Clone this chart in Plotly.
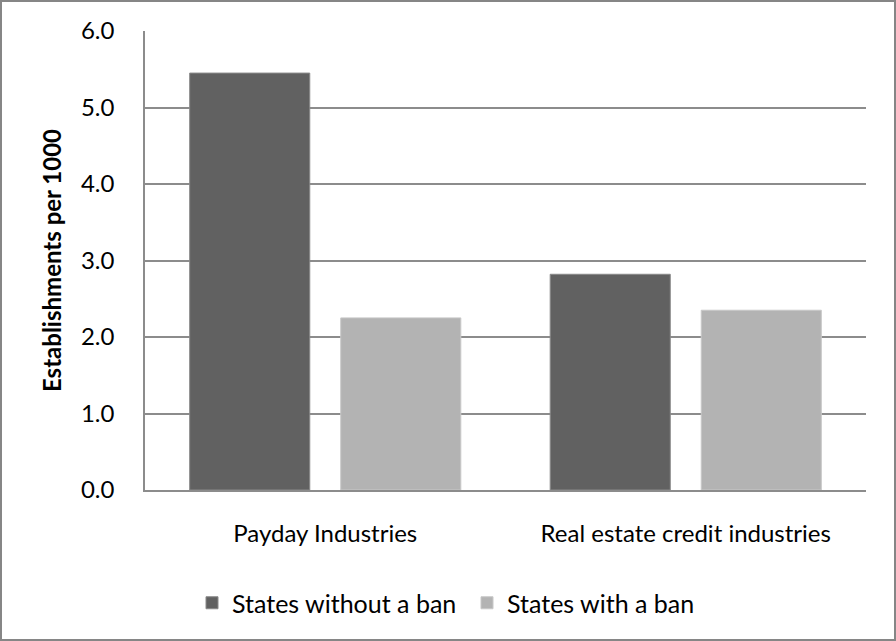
import plotly.graph_objects as go

categories = ["Payday Industries", "Real estate credit industries"]
series_names = ["States without a ban", "States with a ban"]
without_ban = [5.45, 2.82]
with_ban = [2.25, 2.35]
y_ticks = [0, 1, 2, 3, 4, 5, 6]
y_tick_labels = ["0.0", "1.0", "2.0", "3.0", "4.0", "5.0", "6.0"]

FONT = "Lato"
L, R, T, B = 145, 30, 31, 151
W, H = 896, 641
pw, ph = W - L - R, H - T - B

fig = go.Figure()
fig.add_bar(x=categories, y=without_ban, name=series_names[0],
            marker=dict(color="#616161", line=dict(color="#8a8a8a", width=1)))
fig.add_bar(x=categories, y=with_ban, name=series_names[1],
            marker=dict(color="#b3b3b3", line=dict(color="#c8c8c8", width=1)))

fig.update_layout(
    width=W, height=H,
    margin=dict(l=L, r=R, t=T, b=B, pad=0),
    paper_bgcolor="white", plot_bgcolor="white",
    barmode="group", bargap=0.162, bargroupgap=0.205,
    font=dict(family=FONT, size=24, color="#000000"),
    showlegend=True,
    legend=dict(orientation="h", x=(192 - L) / pw, xanchor="left",
                y=(490 - 603) / ph, yanchor="middle",
                font=dict(family=FONT, size=25), itemwidth=30,
                entrywidth=230, entrywidthmode="pixels",
                traceorder="normal"),
    xaxis=dict(showline=True, linecolor="#8c8c8c", linewidth=1.5,
               ticks="", showgrid=False, ticklabelstandoff=21,
               tickfont=dict(family=FONT, size=24)),
    yaxis=dict(range=[0, 6], tickvals=y_ticks, ticktext=y_tick_labels,
               showline=True, linecolor="#8c8c8c", linewidth=1.5,
               showgrid=True, gridcolor="#8c8c8c", gridwidth=1.5,
               ticks="", ticklabelstandoff=24, zeroline=False,
               tickfont=dict(family=FONT, size=24),
               title=dict(text="<b>Establishments per 1000</b>",
                          font=dict(family=FONT, size=24), standoff=13)),
    shapes=[dict(type="rect", xref="paper", yref="paper",
                 x0=(1 - L) / pw, x1=(895 - L) / pw,
                 y0=(490 - 640) / ph, y1=(490 - 1) / ph,
                 line=dict(color="#868686", width=2), fillcolor="rgba(0,0,0,0)",
                 layer="above")],
)

fig.write_html("out.html")
